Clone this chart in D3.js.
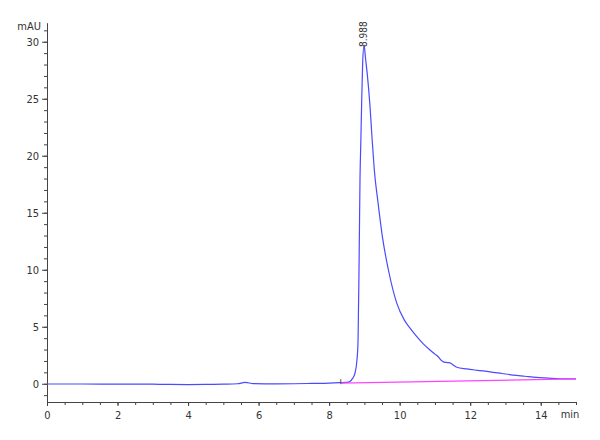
<!DOCTYPE html>
<html>
<head>
<meta charset="utf-8">
<script src="https://cdn.jsdelivr.net/npm/d3@7"></script>
<style>
  body { margin: 0; background: #fff; }
  svg { display: block; }
  .axis text { font-family: "Liberation Sans Narrow", "DejaVu Sans Condensed", "Liberation Sans", sans-serif; font-size: 11px; fill: #333; }
  .axis path, .axis line { stroke: #444; }
</style>
</head>
<body>
<svg id="chart" width="600" height="440"></svg>
<script>
// retention time (min) and detector signal (mAU)
var times = [0, 1, 2, 3, 3.5, 4, 4.5, 5, 5.4, 5.62, 5.85, 6.5, 7, 7.5, 8, 8.3, 8.5, 8.59, 8.66, 8.73, 8.79, 8.82,
    8.85, 8.875, 8.9, 8.92, 8.95, 8.99, 9.03, 9.08, 9.16, 9.22, 9.28, 9.39, 9.51, 9.68, 9.92, 10.13, 10.3, 10.48,
    10.67, 10.86, 11.0, 11.1, 11.18, 11.26, 11.36, 11.45, 11.53, 11.62, 11.9, 12.2, 12.56, 12.9, 13.22, 13.55,
    13.88, 14.2, 14.54, 15];
var signal = [-0.02, -0.02, -0.03, -0.04, -0.06, -0.07, -0.06, -0.04, 0.0, 0.12, 0.02, -0.01, 0.0, 0.03, 0.06, 0.1, 0.12, 0.2, 0.45, 0.9, 2.1, 3.8,
    10.8, 17.9, 21.4, 24.3, 28.1, 29.7, 28.6, 27.2, 24.3, 21.4, 18.8, 15.8, 12.9, 10.0, 7.05, 5.6, 4.85, 4.15,
    3.5, 2.96, 2.6, 2.35, 2.05, 1.9, 1.86, 1.8, 1.62, 1.45, 1.3, 1.18, 1.05, 0.9, 0.76, 0.66,
    0.56, 0.5, 0.44, 0.42];

// integration baseline under the peak
var baseTimes = [8.33, 15];
var baseValues = [0.05, 0.42];

var peakTime = 8.988;
var peakLabel = "8.988";

var xTicks = [0, 2, 4, 6, 8, 10, 12, 14];
var yTicks = [0, 5, 10, 15, 20, 25, 30];

var svg = d3.select("#chart");

var x = d3.scaleLinear().domain([0, 15]).range([47, 576]);
var y = d3.scaleLinear().domain([-1.6, 31.67]).range([402, 22.7]);

// minor ticks
svg.append("g")
    .attr("class", "axis")
    .attr("transform", "translate(0,402)")
    .call(d3.axisBottom(x).tickValues(d3.range(0, 15.01, 0.5)).tickSize(3).tickFormat(""))
    .select(".domain").remove();
svg.append("g")
    .attr("class", "axis")
    .attr("transform", "translate(47,0)")
    .call(d3.axisLeft(y).tickValues(d3.range(-1, 31.5, 1)).tickSize(3).tickFormat(""))
    .select(".domain").remove();

// major ticks + axis lines
var xAxis = svg.append("g")
    .attr("class", "axis")
    .attr("transform", "translate(0,402)")
    .call(d3.axisBottom(x).tickValues(xTicks).tickSize(4).tickSizeOuter(0).tickPadding(5));

var yAxis = svg.append("g")
    .attr("class", "axis")
    .attr("transform", "translate(47,0)")
    .call(d3.axisLeft(y).tickValues(yTicks).tickSize(5).tickSizeOuter(0).tickPadding(3));

xAxis.append("text")
    .attr("x", 570)
    .attr("y", 16)
    .attr("text-anchor", "middle")
    .text("min");

yAxis.append("text")
    .attr("x", -6)
    .attr("y", 30)
    .attr("text-anchor", "end")
    .text("mAU");

var data = times.map(function(t, i) { return [t, signal[i]]; });

svg.append("path")
    .datum(data)
    .attr("fill", "none")
    .attr("stroke", "#4a4aff")
    .attr("stroke-width", 1.2)
    .attr("d", d3.line()
        .x(function(d) { return x(d[0]); })
        .y(function(d) { return y(d[1]); })
        .curve(d3.curveMonotoneX));

svg.append("line")
    .attr("x1", x(baseTimes[0])).attr("y1", y(baseValues[0]))
    .attr("x2", x(baseTimes[1])).attr("y2", y(baseValues[1]))
    .attr("stroke", "#ff44ff")
    .attr("stroke-width", 1.2);

// peak start marker
svg.append("line")
    .attr("x1", x(baseTimes[0])).attr("y1", y(baseValues[0]) - 4)
    .attr("x2", x(baseTimes[0])).attr("y2", y(baseValues[0]) + 1)
    .attr("stroke", "#555")
    .attr("stroke-width", 1);

svg.append("text")
    .attr("transform", "translate(" + (x(peakTime) + 3.5) + ",47) rotate(-90)")
    .attr("font-family", "Liberation Sans Narrow, DejaVu Sans Condensed, sans-serif")
    .attr("font-size", 10)
    .attr("fill", "#333")
    .text(peakLabel);
</script>
</body>
</html>
